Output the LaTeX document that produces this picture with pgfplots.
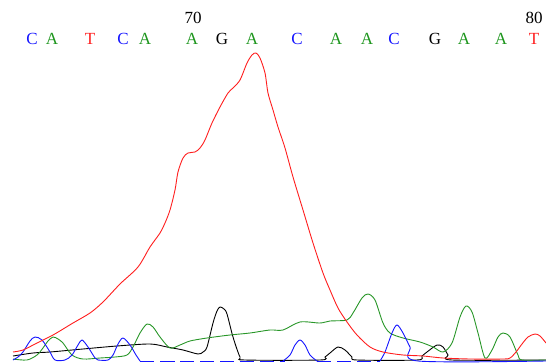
\documentclass[border=0pt]{standalone}
\usepackage{pgfplots}
\pgfplotsset{compat=1.18}
\usepackage{fontspec}
\setmainfont{Liberation Serif}
\definecolor{trA}{RGB}{30,150,30}
\definecolor{trC}{RGB}{20,20,255}
\definecolor{trT}{RGB}{255,30,30}
\definecolor{lnA}{RGB}{40,150,40}
\begin{document}
\begin{tikzpicture}
\begin{axis}[
  width=546pt, height=363pt, scale only axis,
  xmin=0, xmax=546, ymin=0, ymax=363, y dir=reverse,
  axis line style={draw=none}, xtick=\empty, ytick=\empty, clip=true,
  every axis plot/.append style={line width=0.9pt, smooth, tension=0.5},
]
\path (axis cs:0,0) rectangle (axis cs:546,363);
% black baseline trace (G)
\addplot[black] coordinates {(13,356)(33,353)(50,352)(83,349)(117,346)(150,344)(167,347)(183,350)(198,354)(203,352)(207,347)(213,323)(217,311)(220,307)(224,309)(227,314)(233,337)(240,357)(245,360)(320,360)(325,357)(330,353)(338,347)(345,350)(352,357)(357,360)(417,360)(422,356)(427,352)(437,345)(443,347)(448,355)(452,360)(546,360)};
% green trace (A)
\addplot[lnA] coordinates {(13,359)(27,360)(37,355)(43,348)(48,341)(53,337)(58,339)(63,343)(72,355)(83,359)(100,358)(115,357)(127,355)(133,347)(140,333)(147,324)(153,327)(160,337)(170,348)(180,345)(190,341)(207,338)(230,335)(250,333)(270,330)(283,330)(300,322)(320,323)(330,321)(347,320)(353,313)(362,298)(368,294)(375,300)(383,323)(390,333)(403,338)(420,342)(433,347)(443,352)(452,343)(460,317)(466,306)(472,312)(478,333)(485,358)(492,350)(498,337)(503,333)(510,337)(518,355)(522,360)(546,360)};
% blue trace (C)
\addplot[trC] coordinates {(13,360)(18,357)(23,352)(30,341)(35,337)(42,340)(50,352)(55,360)(65,360)(72,355)(78,345)(82,340)(88,347)(95,358)(98,360)(108,360)(113,355)(118,344)(123,338)(130,345)(136,355)(140,361)};
\addplot[trC, dash pattern=on 14pt off 6pt] coordinates {(140,361.5)(285,361.5)};
\addplot[trC] coordinates {(283,361)(290,355)(295,345)(300,340)(305,345)(310,355)(317,361)};
\addplot[trC, dash pattern=on 14pt off 6pt] coordinates {(317,361.5)(380,361.5)};
\addplot[trC] coordinates {(380,361)(385,352)(392,333)(397,325)(403,333)(410,347)(418,361)(546,361)};
% red trace (T)
\addplot[trT] coordinates {(13,352)(23,350)(37,343)(53,335)(73,323)(90,313)(103,302)(120,284)(138,267)(150,247)(160,233)(165,223)(170,210)(175,190)(178,172)(183,158)(188,153)(195,152)(200,148)(205,140)(212,123)(220,107)(228,93)(233,88)(240,80)(247,63)(252,55)(256,53)(260,58)(265,73)(268,93)(273,110)(278,127)(285,148)(293,177)(303,210)(313,243)(323,273)(330,290)(338,308)(347,322)(357,335)(370,347)(383,352)(403,355)(423,356)(443,358)(470,359)(503,359)(510,358)(516,352)(522,344)(528,337)(535,334)(540,336)(546,343)};
% base calls
\begin{scope}[every node/.style={anchor=base, inner sep=0pt, font=\fontsize{17}{17}\selectfont}]
\node[text=trC] at (axis cs:32,45) {C};
\node[text=trA] at (axis cs:52,45) {A};
\node[text=trT] at (axis cs:90,45) {T};
\node[text=trC] at (axis cs:123,45) {C};
\node[text=trA] at (axis cs:145,45) {A};
\node[text=trA] at (axis cs:192,45) {A};
\node[text=black] at (axis cs:222,45) {G};
\node[text=trA] at (axis cs:252,45) {A};
\node[text=trC] at (axis cs:297,45) {C};
\node[text=trA] at (axis cs:336,45) {A};
\node[text=trA] at (axis cs:367,45) {A};
\node[text=trC] at (axis cs:394,45) {C};
\node[text=black] at (axis cs:435,45) {G};
\node[text=trA] at (axis cs:464,45) {A};
\node[text=trA] at (axis cs:501,45) {A};
\node[text=trT] at (axis cs:534,45) {T};
\node[text=black] at (axis cs:193,24) {70};
\node[text=black] at (axis cs:534,24) {80};
\end{scope}
\end{axis}
\end{tikzpicture}
\end{document}
